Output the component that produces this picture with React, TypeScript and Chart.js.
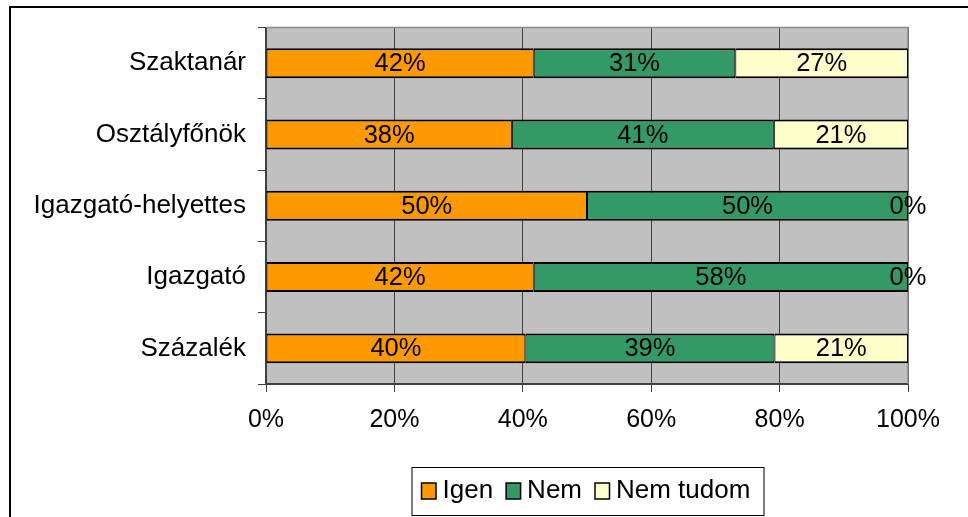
import React, { useEffect, useRef } from 'react';
import { Chart, registerables } from 'chart.js';

Chart.register(...registerables);

const categories = ['Szaktanár', 'Osztályfőnök', 'Igazgató-helyettes', 'Igazgató', 'Százalék'];
const seriesNames = ['Igen', 'Nem', 'Nem tudom'];
const igen = [41.7, 38.3, 50, 41.7, 40.4];
const nem = [31.4, 40.8, 50, 58.3, 38.8];
const nemTudom = [26.9, 20.9, 0, 0, 20.8];
const seriesColors = ['#FF9900', '#339966', '#FFFFCC'];
const xTickValues = [0, 20, 40, 60, 80, 100];

const FONT = '"Liberation Sans", Arial, sans-serif';

const framePlugin = {
  id: 'frame',
  beforeDraw(chart: any) {
    const { ctx, chartArea: a } = chart;
    ctx.save();
    ctx.fillStyle = '#ffffff';
    ctx.fillRect(0, 0, chart.width, chart.height);
    ctx.strokeStyle = '#000000';
    ctx.lineWidth = 2;
    ctx.strokeRect(10, 7, 3000, 3000);
    ctx.fillStyle = '#C0C0C0';
    ctx.fillRect(a.left, a.top, a.right - a.left, a.bottom - a.top);
    ctx.restore();
  },
  beforeDatasetsDraw(chart: any) {
    const { ctx, chartArea: a } = chart;
    ctx.save();
    ctx.strokeStyle = '#8a8a8a';
    ctx.lineWidth = 1.5;
    ctx.beginPath();
    ctx.moveTo(a.left, a.top);
    ctx.lineTo(a.right, a.top);
    ctx.lineTo(a.right, a.bottom);
    ctx.stroke();
    ctx.restore();
  },
};

const labelPlugin = {
  id: 'segLabels',
  afterDatasetsDraw(chart: any) {
    const { ctx } = chart;
    ctx.save();
    ctx.font = '25.5px ' + FONT;
    ctx.fillStyle = '#000';
    ctx.textAlign = 'center';
    ctx.textBaseline = 'alphabetic';
    chart.data.datasets.forEach((ds: any, di: number) => {
      const meta = chart.getDatasetMeta(di);
      meta.data.forEach((el: any, i: number) => {
        const v = ds.data[i];
        const cx = (el.x + el.base) / 2;
        ctx.fillText(Math.round(v) + '%', cx, el.y + 8);
      });
    });
    ctx.restore();
  },
};

const legendPlugin = {
  id: 'customLegend',
  afterDraw(chart: any) {
    const { ctx } = chart;
    ctx.save();
    ctx.font = '26px ' + FONT;
    const boxW = 14.5, boxH = 16, gap = 6.5, itemGap = 13, padL = 10, padR = 13;
    const widths = seriesNames.map((n) => ctx.measureText(n).width);
    let total = padL + padR;
    widths.forEach((w, i) => {
      total += boxW + gap + w + (i > 0 ? itemGap : 0);
    });
    const left = 411.5;
    const top = 467;
    const h = 48;
    ctx.fillStyle = '#ffffff';
    ctx.fillRect(left, top, total, h);
    ctx.strokeStyle = '#000';
    ctx.lineWidth = 1;
    ctx.strokeRect(left + 0.5, top + 0.5, Math.round(total), h);
    let x = left + padL;
    ctx.textAlign = 'left';
    ctx.textBaseline = 'alphabetic';
    seriesNames.forEach((n, i) => {
      ctx.fillStyle = seriesColors[i];
      ctx.fillRect(x, 483, boxW, boxH);
      ctx.strokeStyle = '#000';
      ctx.lineWidth = 1.5;
      ctx.strokeRect(x, 483, boxW, boxH);
      ctx.fillStyle = '#000';
      ctx.fillText(n, x + boxW + gap, 497.5);
      x += boxW + gap + widths[i] + itemGap;
    });
    ctx.restore();
  },
};

export default function App() {
  const ref = useRef<HTMLCanvasElement>(null);
  useEffect(() => {
    const values = [igen, nem, nemTudom];
    const chart = new Chart(ref.current as HTMLCanvasElement, {
      type: 'bar',
      data: {
        labels: categories,
        datasets: seriesNames.map((name, i) => ({
          label: name,
          data: values[i],
          backgroundColor: seriesColors[i],
          borderColor: '#000000',
          borderWidth: { top: 2, bottom: 2, left: 1, right: 1 },
          borderSkipped: false,
          barPercentage: 0.42,
          categoryPercentage: 1,
        })),
      },
      options: {
        indexAxis: 'y',
        responsive: false,
        animation: false,
        devicePixelRatio: 1,
        layout: { padding: { top: 27, right: 60, bottom: 50, left: 0 } },
        plugins: {
          legend: { display: false },
          tooltip: { enabled: false },
        },
        scales: {
          x: {
            stacked: true,
            min: 0,
            max: 100,
            afterBuildTicks(scale: any) {
              scale.ticks = xTickValues.map((v) => ({ value: v }));
            },
            afterFit(scale: any) {
              scale.height = 83;
            },
            ticks: {
              color: '#000',
              font: { family: FONT, size: 25 },
              padding: 13.5,
              maxRotation: 0,
              callback: (v: any) => v + '%',
            },
            grid: {
              color: '#404040',
              lineWidth: 1,
              tickLength: 8,
              drawOnChartArea: true,
            },
            border: { color: '#404040', width: 2 },
          },
          y: {
            stacked: true,
            afterFit(scale: any) {
              scale.width = 266;
            },
            ticks: {
              color: '#000',
              font: { family: FONT, size: 26 },
              padding: 12,
            },
            grid: {
              drawOnChartArea: false,
              color: '#404040',
              tickLength: 8,
            },
            border: { color: '#404040', width: 2 },
          },
        },
      } as any,
      plugins: [framePlugin, labelPlugin, legendPlugin],
    });
    return () => chart.destroy();
  }, []);
  return (
    <div style={{ position: 'absolute', left: 0, top: 0, width: 968, height: 517 }}>
      <canvas ref={ref} width={968} height={517} style={{ width: 968, height: 517, display: 'block' }} />
    </div>
  );
}
